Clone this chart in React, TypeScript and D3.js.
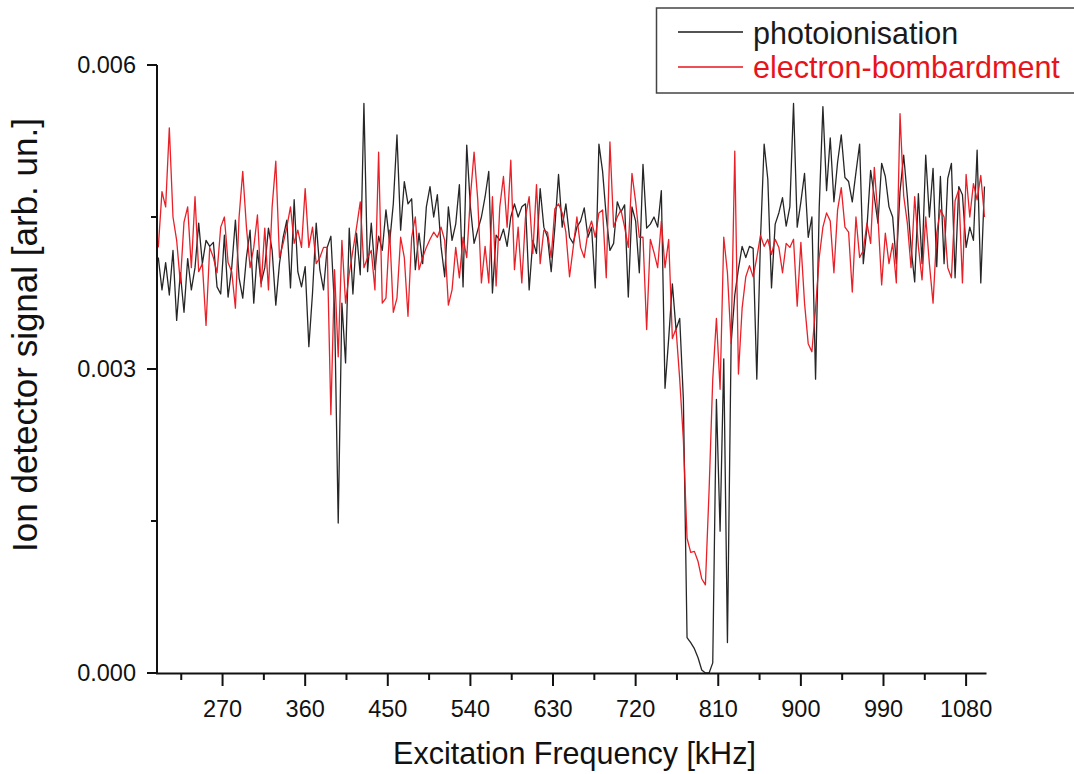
import React from "react";
import * as d3 from "d3";

// Frequency sampling grid (kHz)
const freqStart = 200;
const freqStep = 4;

// Ion detector signal, in units of 1e-3 arb. un.
const photoionisation = [
  4.10, 3.78, 4.05, 3.73, 4.17, 3.48, 3.95, 3.56, 4.09, 3.78,
  4.00, 4.44, 4.04, 4.27, 4.21, 4.25, 3.81, 3.74, 4.32, 3.71,
  4.00, 4.47, 3.90, 3.70, 4.10, 4.37, 3.65, 4.17, 3.85, 4.00,
  4.39, 4.17, 3.63, 4.04, 4.30, 4.47, 3.80, 4.67, 3.96, 3.81,
  4.01, 3.22, 3.75, 4.44, 3.98, 3.78, 4.20, 4.31, 3.60, 1.48,
  3.65, 3.06, 4.39, 3.74, 4.34, 3.93, 5.62, 3.96, 4.44, 3.98,
  4.31, 4.17, 4.57, 4.25, 4.63, 5.31, 4.37, 4.85, 4.63, 4.68,
  3.98, 4.34, 4.04, 4.60, 4.80, 4.50, 4.72, 4.21, 3.91, 4.60,
  4.27, 4.43, 4.82, 3.81, 5.21, 4.60, 4.24, 4.37, 4.50, 4.70,
  4.95, 3.75, 4.32, 4.27, 4.38, 4.21, 4.50, 4.63, 4.50, 4.60,
  4.63, 3.78, 4.27, 4.14, 4.78, 4.40, 4.30, 3.96, 4.40, 4.92,
  4.40, 4.63, 4.30, 4.24, 4.40, 4.46, 4.59, 4.30, 4.40, 3.80,
  5.22, 4.95, 4.50, 4.17, 4.24, 4.65, 4.55, 4.62, 3.71, 4.60,
  4.46, 3.95, 5.02, 4.39, 4.43, 4.50, 4.40, 4.76, 2.81, 3.30,
  3.84, 3.39, 3.50, 2.70, 0.35, 0.30, 0.24, 0.15, 0.03, 0.00,
  0.00, 0.10, 2.70, 1.40, 3.10, 0.30, 3.25, 3.73, 3.99, 4.21,
  4.10, 4.21, 4.19, 2.90, 4.28, 5.22, 4.87, 3.80, 4.43, 4.54,
  4.69, 4.41, 4.60, 5.62, 4.40, 4.65, 4.93, 4.30, 4.50, 2.90,
  4.60, 5.59, 4.76, 5.28, 4.65, 5.04, 5.31, 4.89, 4.85, 4.65,
  4.94, 5.22, 4.04, 4.40, 4.96, 4.70, 4.44, 5.03, 4.90, 4.60,
  4.50, 4.04, 4.75, 5.11, 4.70, 4.20, 3.86, 4.73, 4.04, 5.11,
  4.50, 4.98, 4.01, 4.90, 4.04, 4.88, 5.03, 3.90, 4.80, 4.72,
  4.20, 4.40, 4.27, 5.16, 3.85, 4.80,
];

const electronBombardment = [
  4.20, 4.75, 4.60, 5.38, 4.50, 4.27, 3.85, 4.45, 4.60, 4.00,
  4.70, 3.96, 4.04, 3.43, 4.20, 4.10, 3.95, 4.40, 4.50, 4.05,
  3.96, 3.60, 4.50, 4.95, 4.40, 4.00, 4.20, 4.52, 3.81, 4.39,
  3.78, 4.60, 5.05, 4.10, 4.24, 4.40, 4.60, 4.24, 4.37, 4.20,
  4.78, 4.20, 4.40, 4.04, 4.10, 4.20, 4.20, 2.55, 3.98, 3.12,
  4.27, 3.65, 3.94, 4.17, 4.40, 4.65, 4.00, 4.10, 4.17, 3.78,
  5.14, 3.65, 3.70, 4.37, 3.56, 3.70, 4.30, 4.10, 3.52, 4.30,
  4.50, 3.98, 4.10, 4.20, 4.28, 4.35, 4.30, 4.40, 4.27, 3.63,
  3.78, 4.20, 3.90, 4.30, 4.10, 4.70, 5.14, 4.67, 3.85, 4.21,
  3.85, 4.70, 3.82, 4.60, 4.90, 4.40, 5.06, 3.98, 4.40, 3.85,
  4.50, 4.70, 4.14, 4.82, 4.04, 4.37, 4.35, 4.10, 4.58, 4.63,
  4.54, 4.35, 3.91, 4.20, 4.50, 4.20, 4.10, 4.35, 4.46, 4.30,
  4.54, 4.57, 3.90, 5.24, 4.40, 4.50, 4.57, 4.40, 4.20, 4.93,
  4.65, 4.30, 4.30, 3.39, 4.28, 4.15, 4.00, 4.46, 4.00, 4.28,
  3.30, 3.40, 2.90, 2.30, 1.33, 1.19, 1.20, 1.10, 0.93, 0.87,
  1.80, 2.90, 3.50, 2.80, 4.30, 3.95, 3.25, 5.15, 2.95, 3.60,
  3.91, 4.02, 3.91, 4.10, 4.32, 4.21, 4.28, 4.13, 4.28, 4.20,
  3.95, 4.24, 4.20, 4.28, 3.62, 4.25, 3.65, 3.25, 3.17, 3.60,
  4.10, 4.40, 4.54, 4.46, 3.95, 4.57, 4.79, 4.40, 4.35, 3.76,
  4.50, 4.10, 4.17, 4.44, 4.24, 4.99, 4.50, 3.83, 4.34, 4.04,
  4.24, 3.85, 5.52, 4.71, 4.44, 4.00, 4.70, 4.21, 3.88, 4.50,
  4.04, 3.65, 4.34, 4.57, 4.50, 4.00, 3.90, 4.66, 4.77, 3.85,
  4.92, 4.50, 4.83, 4.67, 4.91, 4.50,
];

const xMajorTicks = [270, 360, 450, 540, 630, 720, 810, 900, 990, 1080];
const xMinorTicks = [225, 315, 405, 495, 585, 675, 765, 855, 945, 1035];
const yMajorTicks = [0, 3, 6];
const yMinorTicks = [1.5, 4.5];
const seriesNames = ["photoionisation", "electron-bombardment"];
const seriesColors = ["#1a1a1a", "#e8141c"];

const FONT = "'Liberation Sans', Arial, Helvetica, sans-serif";

export default function App() {
  const x = d3.scaleLinear().domain([200, 1102]).range([158.3, 986.3]);
  const y = d3.scaleLinear().domain([0, 6]).range([673, 65]);
  const line = d3
    .line<number>()
    .x((_, i) => x(freqStart + i * freqStep))
    .y((d) => y(d));

  const series = [photoionisation, electronBombardment];
  const fmt = (v: number) => (v / 1000).toFixed(3);

  return (
    <svg
      width={1074}
      height={774}
      style={{ position: "absolute", left: 0, top: 0, background: "#fff" }}
      fontFamily={FONT}
    >
      <rect x={0} y={0} width={1074} height={774} fill="#fff" />
      {series.map((s, k) => (
        <path
          key={k}
          d={line(s) || ""}
          fill="none"
          stroke={seriesColors[k]}
          strokeWidth={1.3}
          strokeLinejoin="round"
          opacity={0.95}
        />
      ))}

      {/* axes */}
      <line x1={157} x2={157} y1={y(6)} y2={674} stroke="#111" strokeWidth={2} />
      <line x1={156} x2={986.5} y1={673.5} y2={673.5} stroke="#111" strokeWidth={2} />
      {yMajorTicks.map((t) => (
        <g key={"ym" + t}>
          <line x1={147} x2={157} y1={y(t)} y2={y(t)} stroke="#111" strokeWidth={2} />
          <text
            x={136}
            y={y(t) + 8}
            textAnchor="end"
            fontSize={23.5}
            fill="#111"
          >
            {fmt(t)}
          </text>
        </g>
      ))}
      {yMinorTicks.map((t) => (
        <line key={"yn" + t} x1={151} x2={157} y1={y(t)} y2={y(t)} stroke="#111" strokeWidth={2} />
      ))}
      {xMajorTicks.map((t) => (
        <g key={"xm" + t}>
          <line x1={x(t)} x2={x(t)} y1={673} y2={686} stroke="#111" strokeWidth={2} />
          <text x={x(t)} y={717} textAnchor="middle" fontSize={23.5} fill="#111">
            {t}
          </text>
        </g>
      ))}
      {xMinorTicks.map((t) => (
        <line key={"xn" + t} x1={x(t)} x2={x(t)} y1={673} y2={680} stroke="#111" strokeWidth={2} />
      ))}

      <text x={574.5} y={764} textAnchor="middle" fontSize={30.5} fill="#111">
        Excitation Frequency [kHz]
      </text>
      <text
        transform="translate(37,335) rotate(-90)"
        textAnchor="middle"
        fontSize={35}
        fill="#111"
      >
        Ion detector signal [arb. un.]
      </text>

      {/* legend */}
      <rect x={656.5} y={8} width={430} height={85} fill="#fff" stroke="#444" strokeWidth={1.5} />
      {seriesNames.map((n, k) => (
        <g key={n}>
          <line
            x1={678}
            x2={743}
            y1={32 + k * 35}
            y2={32 + k * 35}
            stroke={seriesColors[k]}
            strokeWidth={1.3}
          />
          <text x={753} y={44 + k * 34} fontSize={30.5} fill={seriesColors[k]}>
            {n}
          </text>
        </g>
      ))}
    </svg>
  );
}
